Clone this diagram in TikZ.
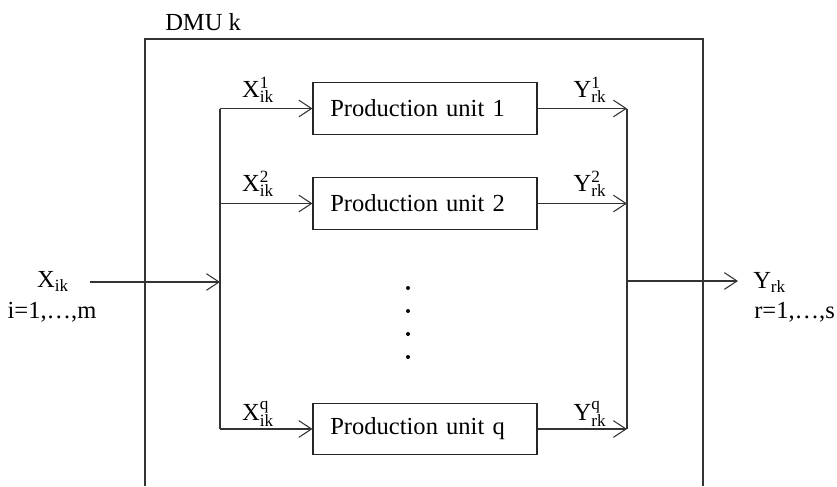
\documentclass[tikz,border=0pt]{standalone}
\usepackage{fontspec}
\setmainfont{Liberation Serif}
\usetikzlibrary{arrows.meta}
\tikzset{
  ln/.style={line width=0.8pt, draw=black!80},
  arr/.style={ln, -{Straight Barb[length=9.5pt,width=12.5pt,line width=0.8pt]}},
  unitbox/.style={draw=black!85, line width=0.8pt, text width=142pt, align=left, inner xsep=13pt, inner ysep=0pt, minimum height=38.5pt},
  lbl/.style={inner sep=0pt},
  dot/.style={circle, fill=black, inner sep=0pt, minimum size=3pt}
}
\begin{document}
\begin{tikzpicture}[x=0.75pt, y=-0.75pt, font=\fontsize{18.4}{22}\selectfont]
\useasboundingbox (0,0) rectangle (837,486);
% outer DMU box (open at bottom)
\draw[ln] (145,486) -- (145,39) -- (703,39) -- (703,486);
\node[lbl, anchor=west] (dmu) at (165,22) {DMU k};
% production units
\node[unitbox] (p1) at (425,108.5) {Production unit 1};
\node[unitbox] (p2) at (425,203.5) {Production unit 2};
\node[unitbox] (pq) at (425,429) {Production unit q};
% dots
\node[dot] (d1) at (408,288) {};
\node[dot] (d2) at (408,311) {};
\node[dot] (d3) at (408,334) {};
\node[dot] (d4) at (408,357) {};
% left bus
\coordinate (bl1) at (220,108.5);
\coordinate (bl2) at (220,203.5);
\coordinate (blq) at (220,429);
\coordinate (blm) at (220,282);
\coordinate (in) at (90,282);
\draw[ln] (bl1) -- (blq);
\draw[arr] (in) -- (blm);
\draw[arr] (bl1) -- (p1.west);
\draw[arr] (bl2) -- (p2.west);
\draw[arr] (blq) -- (pq.west);
% right bus
\coordinate (br1) at (627,108.5);
\coordinate (br2) at (627,203.5);
\coordinate (brq) at (627,429);
\coordinate (brm) at (627,281);
\coordinate (out) at (738,281);
\draw[ln] (br1) -- (brq);
\draw[arr] (p1.east) -- (br1);
\draw[arr] (p2.east) -- (br2);
\draw[arr] (pq.east) -- (brq);
\draw[arr] (brm) -- (out);
% labels
\node[lbl] (xin) at (53,281) {$\mathrm{X}_{\mathrm{ik}}$};
\node[lbl] (xrange) at (52,312) {i=1,\ldots,m};
\node[lbl, anchor=west] (yout) at (753,282) {$\mathrm{Y}_{\mathrm{rk}}$};
\node[lbl, anchor=west] (yrange) at (754,312) {r=1,\ldots,s};
\node[lbl] (x1) at (258,90) {$\mathrm{X}^{\mathrm{1}}_{\mathrm{ik}}$};
\node[lbl] (x2) at (258,184) {$\mathrm{X}^{\mathrm{2}}_{\mathrm{ik}}$};
\node[lbl] (xq) at (258,414) {$\mathrm{X}^{\mathrm{q}}_{\mathrm{ik}}$};
\node[lbl] (y1) at (590,90) {$\mathrm{Y}^{\mathrm{1}}_{\mathrm{rk}}$};
\node[lbl] (y2) at (590,184) {$\mathrm{Y}^{\mathrm{2}}_{\mathrm{rk}}$};
\node[lbl] (yq) at (590,414) {$\mathrm{Y}^{\mathrm{q}}_{\mathrm{rk}}$};
\end{tikzpicture}
\end{document}
